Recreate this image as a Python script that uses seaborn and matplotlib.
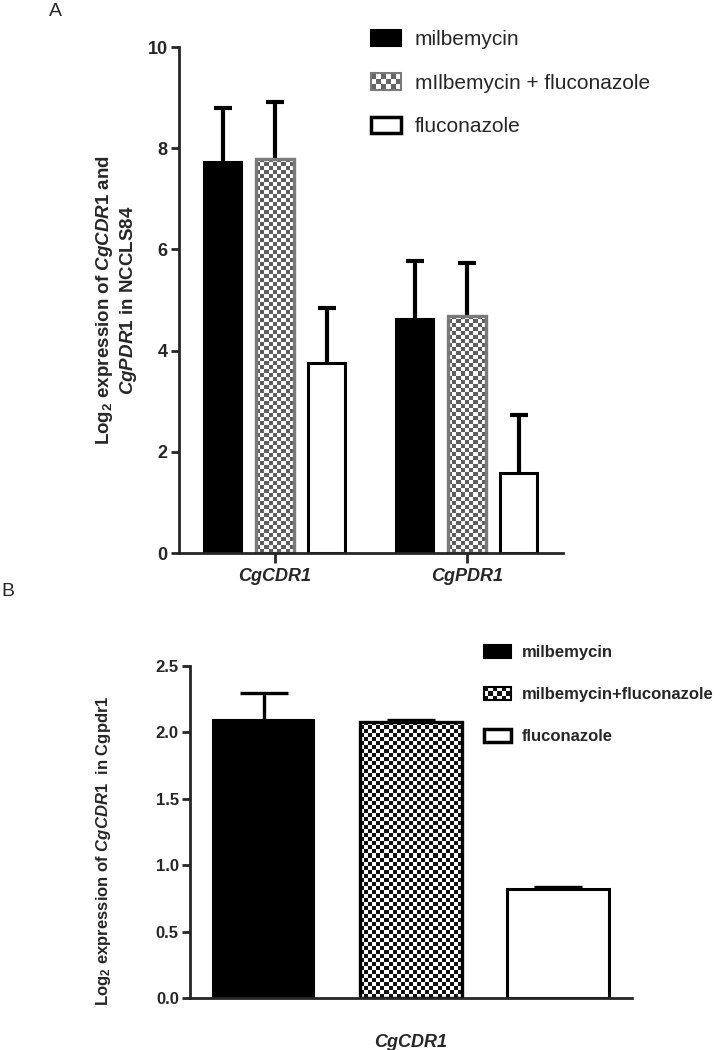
import numpy as np
import pandas as pd
import matplotlib
matplotlib.use("Agg")
import matplotlib.pyplot as plt
import seaborn as sns
from matplotlib.colors import ListedColormap
from matplotlib.patches import Patch, Rectangle
from matplotlib.legend_handler import HandlerBase

# Panel A: expression in NCCLS84
genes_a = ["CgCDR1", "CgPDR1"]
treatments_a = ["milbemycin", "mIlbemycin + fluconazole", "fluconazole"]
milb_a = [7.73, 4.62]
combo_a = [7.79, 4.69]
fluc_a = [3.75, 1.58]
milb_a_err = [1.06, 1.15]
combo_a_err = [1.12, 1.04]
fluc_a_err = [1.09, 1.14]
yticks_a = [0, 2, 4, 6, 8, 10]

# Panel B: expression in Cgpdr1
genes_b = ["CgCDR1"]
treatments_b = ["milbemycin", "milbemycin+fluconazole", "fluconazole"]
milb_b = [2.09]
combo_b = [2.08]
fluc_b = [0.82]
milb_b_err = [0.21]
combo_b_err = [0.015]
fluc_b_err = [0.015]
yticks_b = [0.0, 0.5, 1.0, 1.5, 2.0, 2.5]

sns.set_style("ticks")
plt.rcParams["font.family"] = ["Liberation Sans", "DejaVu Sans"]
plt.rcParams["mathtext.fontset"] = "custom"
plt.rcParams["mathtext.rm"] = "Liberation Sans:bold"
plt.rcParams["mathtext.bf"] = "Liberation Sans:bold"
plt.rcParams["mathtext.it"] = "Liberation Sans:italic:bold"


class CheckerHandler(HandlerBase):
    """Legend swatch drawn as a small checkerboard."""

    def __init__(self, dark, edge, lw, n=(6, 3)):
        super().__init__()
        self.dark, self.edge, self.lw, self.n = dark, edge, lw, n

    def create_artists(self, legend, orig_handle, xdescent, ydescent,
                       width, height, fontsize, trans):
        x0, y0 = -xdescent, -ydescent
        arts = [Rectangle((x0, y0), width, height, facecolor="white",
                          edgecolor="none", transform=trans)]
        nx, ny = self.n
        cw, ch = width / nx, height / ny
        for i in range(nx):
            for j in range(ny):
                if (i + j) % 2 == 0:
                    arts.append(Rectangle((x0 + i * cw, y0 + j * ch), cw, ch,
                                          facecolor=self.dark, edgecolor="none",
                                          transform=trans))
        arts.append(Rectangle((x0, y0), width, height, facecolor="none",
                              edgecolor=self.edge, lw=self.lw, transform=trans))
        return arts


def checker_fill(ax, bar, dark, cell_px=4):
    bb = bar.get_window_extent()
    ncols = max(1, int(round(bb.width / cell_px)))
    nrows = max(1, int(round(bb.height / cell_px)))
    grid = np.add.outer(np.arange(nrows), np.arange(ncols)) % 2
    x0, x1 = bar.get_x(), bar.get_x() + bar.get_width()
    y0, y1 = bar.get_y(), bar.get_y() + bar.get_height()
    im = ax.imshow(grid, extent=(x0, x1, y0, y1), origin="lower",
                   cmap=ListedColormap(["white", dark]), interpolation="nearest",
                   aspect="auto", zorder=bar.get_zorder() - 0.1)
    im.set_clip_path(bar)
    bar.set_facecolor("none")


def draw_panel(ax, genes, treatments, means, errs, width, gap, xlim, ylim,
               check_dark, check_edge, elw, capsize):
    rows = []
    for t, vals in zip(treatments, means):
        for g, v in zip(genes, vals):
            rows.append({"gene": g, "treatment": t, "value": v})
    df = pd.DataFrame(rows)
    sns.barplot(data=df, x="gene", y="value", hue="treatment", order=genes,
                hue_order=treatments, palette=["black", "white", "white"],
                saturation=1, width=width, gap=gap, errorbar=None,
                legend=False, ax=ax, zorder=2)
    edges = ["black", check_edge, "black"]
    lws = [1.5, 2.4, 2.2]
    for cont, err, ec, lw in zip(ax.containers, errs, edges, lws):
        xs, ys = [], []
        for bar in cont:
            bar.set_edgecolor(ec)
            bar.set_linewidth(lw)
            xs.append(bar.get_x() + bar.get_width() / 2)
            ys.append(bar.get_height())
        eb = ax.errorbar(xs, ys, yerr=[np.zeros(len(err)), err], fmt="none",
                         ecolor="black", elinewidth=elw, capsize=capsize,
                         capthick=elw, zorder=1)
        # only the upper cap is shown
        eb[1][0].set_visible(False)
    ax.set_xlim(*xlim)
    ax.set_ylim(*ylim)
    for bar in ax.containers[1]:
        checker_fill(ax, bar, check_dark)
    ax.set_xlim(*xlim)
    ax.set_ylim(*ylim)
    sns.despine(ax=ax)
    for s in ["left", "bottom"]:
        ax.spines[s].set_linewidth(2)
    ax.tick_params(width=2, length=6, pad=2)


fig = plt.figure(figsize=(7.24, 10.5), dpi=100)

# ---- Panel A ----
ax_a = fig.add_axes([0.2472, 0.4733, 0.5304, 0.4819])
draw_panel(ax_a, genes_a, treatments_a, [milb_a, combo_a, fluc_a],
           [milb_a_err, combo_a_err, fluc_a_err], width=0.81, gap=0.28,
           xlim=(-0.5, 1.5), ylim=(0, 10), check_dark="#5e5e5e",
           check_edge="#7a7a7a", elw=3, capsize=6.2)
ax_a.set_yticks(yticks_a)
ax_a.set_yticklabels([str(v) for v in yticks_a], fontsize=13, fontweight="bold")
ax_a.set_xticks(range(len(genes_a)))
ax_a.set_xticklabels(genes_a, fontsize=13, fontweight="bold", fontstyle="italic")
ax_a.tick_params(axis="x", length=7, pad=4)
ax_a.set_xlabel("")
ax_a.set_ylabel("Log$_\\mathbf{2}$ expression of $\\mathit{CgCDR1}$ and\n"
                "$\\mathit{CgPDR1}$ in NCCLS84",
                fontsize=13.5, fontweight="bold", linespacing=1.2)
ax_a.yaxis.set_label_coords(-0.105, 0.5)

handles_a = [Patch(facecolor="black", edgecolor="black", lw=1.5),
             Patch(facecolor="#666666", edgecolor="#7a7a7a"),
             Patch(facecolor="white", edgecolor="black", lw=2.5)]
ax_a.legend(handles_a, treatments_a, loc="upper left",
            bbox_to_anchor=(0.512, 0.9714), bbox_transform=fig.transFigure,
            frameon=False, fontsize=15, handlelength=1.44, handleheight=0.82,
            handletextpad=0.67, labelspacing=1.15, borderpad=0, borderaxespad=0,
            handler_map={handles_a[1]: CheckerHandler("#666666", "#7a7a7a", 1.5)})

# ---- Panel B ----
ax_b = fig.add_axes([0.2624, 0.0495, 0.6105, 0.3162])
draw_panel(ax_b, genes_b, treatments_b, [milb_b, combo_b, fluc_b],
           [milb_b_err, combo_b_err, fluc_b_err], width=1.0, gap=0.31,
           xlim=(-0.5, 0.5), ylim=(0, 2.5), check_dark="#111111",
           check_edge="black", elw=2.4, capsize=17.3)
ax_b.set_yticks(yticks_b)
ax_b.set_yticklabels([f"{v:.1f}" for v in yticks_b], fontsize=12, fontweight="bold")
ax_b.set_xticks([])
ax_b.set_xlabel(genes_b[0], fontsize=13, fontweight="bold", fontstyle="italic",
                labelpad=26)
ax_b.set_ylabel("Log$_\\mathbf{2}$ expression of $\\mathit{CgCDR1}$  in Cgpdr1",
                fontsize=12, fontweight="bold")
ax_b.yaxis.set_label_coords(-0.175, 0.443)

handles_b = [Patch(facecolor="black", edgecolor="black", lw=1.5),
             Patch(facecolor="#111111", edgecolor="black"),
             Patch(facecolor="white", edgecolor="black", lw=2.5)]
ax_b.legend(handles_b, treatments_b, loc="upper left",
            bbox_to_anchor=(0.6685, 0.3857), bbox_transform=fig.transFigure,
            frameon=False, prop={"size": 12, "weight": "bold"},
            handlelength=1.6, handleheight=0.82, handletextpad=0.65,
            labelspacing=1.6, borderpad=0, borderaxespad=0,
            handler_map={handles_b[1]: CheckerHandler("#111111", "black", 1.5)})

fig.text(55 / 724, 1 - 12 / 1050, "A", fontsize=14, ha="center", va="center")
fig.text(0.002, 1 - 592 / 1050, "B", fontsize=14, ha="left", va="center")

fig.savefig("out.png", dpi=100, facecolor="white")
